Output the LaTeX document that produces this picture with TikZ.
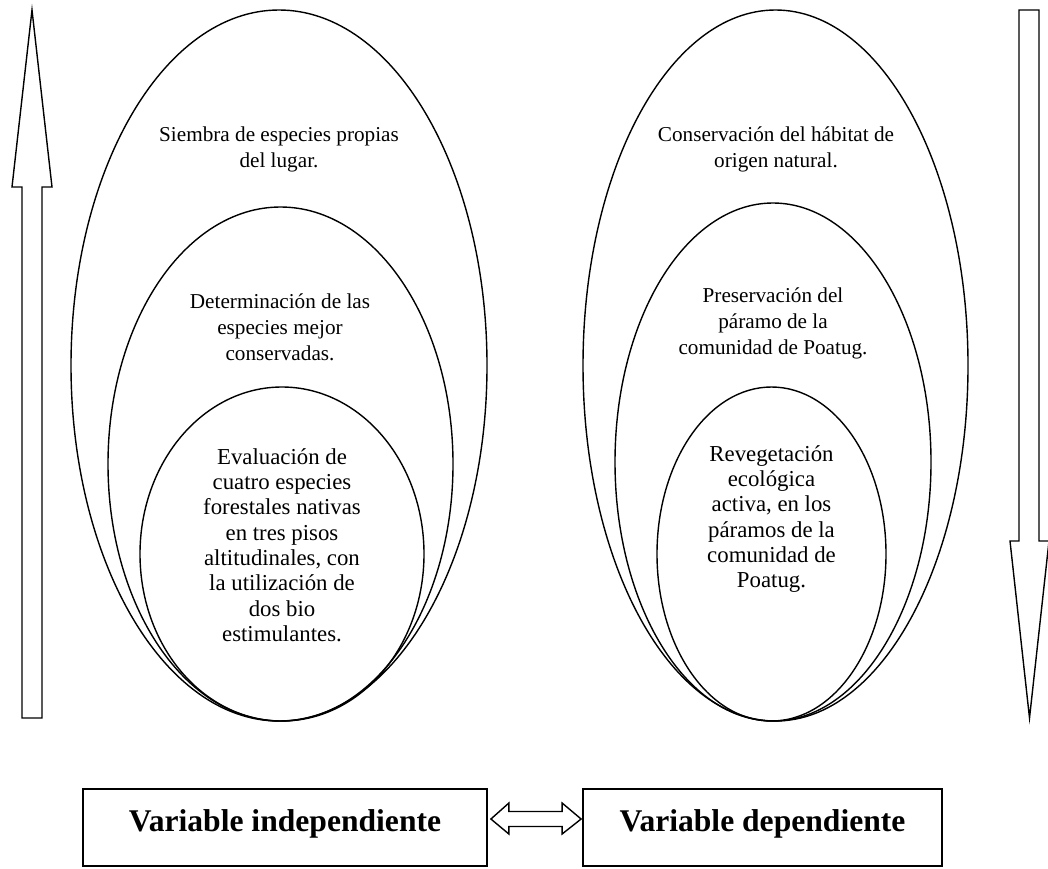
\documentclass[tikz,border=0pt]{standalone}
\usepackage{fontspec}
\setmainfont{Liberation Serif}
\usetikzlibrary{calc}

\tikzset{
  ringtext/.style={align=center, inner sep=0pt, font=\fontsize{10.6}{13}\selectfont},
  coretext/.style={align=center, inner sep=0pt, font=\fontsize{11.4}{12.65}\selectfont},
  varbox/.style={draw, line width=0.9pt, inner xsep=0pt, inner ysep=0pt, text height=21pt, text depth=17.5pt, font=\fontsize{15.8}{18}\selectfont\bfseries},
  hollow/.style={draw, line width=0.7pt, line join=miter}
}

\begin{document}
\begin{tikzpicture}[x=0.5pt, y=-0.5pt]
  \useasboundingbox (0,0) rectangle (1048,868);

  % Upward arrow (left)
  \draw[hollow] (22,718) -- (22,187) -- (12,187) -- (32,10) -- (52,187) -- (42,187) -- (42,718) -- cycle;

  % Downward arrow (right)
  \draw[hollow] (1019,10) -- (1019,541) -- (1010,541) -- (1029.5,718) -- (1049,541) -- (1039,541) -- (1039,10) -- cycle;

  % Independent variable rings
  \draw[hollow] (279,365.5) ellipse [x radius=208, y radius=355.5];
  \draw[hollow] (280.5,464) ellipse [x radius=172.5, y radius=257];
  \draw[hollow] (282,554) ellipse [x radius=142, y radius=167];

  \node[ringtext] (siembra) at (279,149.5) {Siembra de especies propias\\del lugar.};
  \node[ringtext] (determina) at (280,327) {Determinación de las\\especies mejor\\conservadas.};
  \node[coretext] (evalua) at (282,545) {Evaluación de\\cuatro especies\\forestales nativas\\en tres pisos\\altitudinales, con\\la utilización de\\dos bio\\estimulantes.};

  % Dependent variable rings
  \draw[hollow] (775.5,365.5) ellipse [x radius=192.5, y radius=355.5];
  \draw[hollow] (773,462) ellipse [x radius=158, y radius=259];
  \draw[hollow] (771.5,554) ellipse [x radius=114.5, y radius=167];

  \node[ringtext] (conserva) at (776,149.5) {Conservación del hábitat de\\origen natural.};
  \node[ringtext] (preserva) at (773,323) {Preservación del\\páramo de la\\comunidad de Poatug.};
  \node[coretext] (revege) at (771.5,519) {Revegetación\\ecológica\\activa, en los\\páramos de la\\comunidad de\\Poatug.};

  % Variables
  \node[varbox, minimum width=202pt] (indep) at (285,827.5) {Variable independiente};
  \node[varbox, minimum width=179.5pt] (dep) at (762.5,827.5) {Variable dependiente};

  % Double arrow between the boxes
  \coordinate (dl) at ($(indep.east)+(3,-8.5)$);
  \coordinate (dr) at ($(dep.west)+(-1,-8.5)$);
  \draw[hollow] (dl) -- ($(dl)+(18,-16)$) -- ($(dl)+(18,-7.5)$) -- ($(dr)+(-19,-7.5)$) -- ($(dr)+(-19,-16)$)
    -- (dr) -- ($(dr)+(-19,15)$) -- ($(dr)+(-19,7.5)$) -- ($(dl)+(18,7.5)$) -- ($(dl)+(18,15)$) -- cycle;
\end{tikzpicture}
\end{document}
